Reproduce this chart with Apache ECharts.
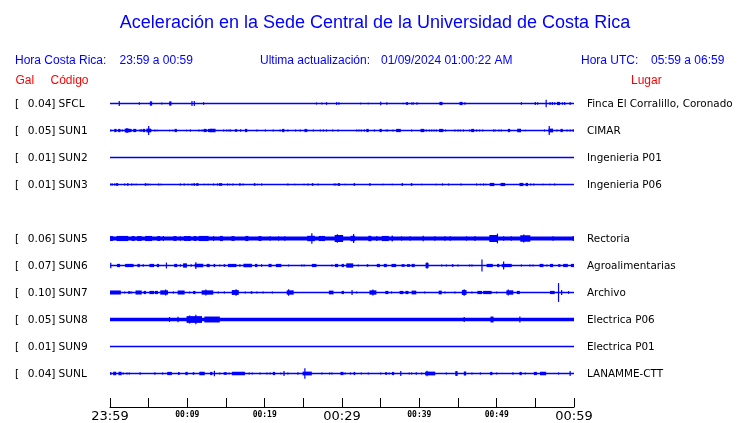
<!DOCTYPE html>
<html><head><meta charset="utf-8">
<script src="https://cdn.jsdelivr.net/npm/echarts@6/dist/echarts.min.js"></script>
<style>html,body{margin:0;padding:0;background:#fff}#c{width:740px;height:423px}</style>
</head><body><div id="c"></div>
<script>
// ---------------- DATA ----------------
const titleText = 'Aceleración en la Sede Central de la Universidad de Costa Rica';
const localLabel = 'Hora Costa Rica:';
const localRange = '23:59 a 00:59';
const updateLabel = 'Ultima actualización:';
const updateValue = '01/09/2024 01:00:22 AM';
const utcLabel = 'Hora UTC:';
const utcRange = '05:59 a 06:59';
const headGal = 'Gal';
const headCode = 'Código';
const headPlace = 'Lugar';

const stations = ['SFCL','SUN1','SUN2','SUN3','SUN5','SUN6','SUN7','SUN8','SUN9','SUNL'];
const peakGal = [0.04,0.05,0.01,0.01,0.06,0.07,0.10,0.05,0.01,0.04];
const places = ['Finca El Corralillo, Coronado','CIMAR','Ingenieria P01','Ingenieria P06','Rectoria','Agroalimentarias','Archivo','Electrica P06','Electrica P01','LANAMME-CTT'];
// continuous background noise half-amplitude (Gal)
const noiseGal = [0,0,0,0,0.014,0,0,0.013,0,0];

// time axis (minutes after 23:59)
const tickMinutes = [0,10,20,30,40,50,60];
const tickLabels = ['23:59','00:09','00:19','00:29','00:39','00:49','00:59'];

// bursts: [minute, half-amplitude Gal, duration minutes]
const sfclEvents = [[1.2,0.018,0],[3.8,0.010,0],[5.3,0.016,0.3],[6.7,0.008,0],[7.8,0.016,0.3],[10.6,0.018,0],[10.9,0.018,0],[12.1,0.010,0],[26.7,0.008,0],[27.4,0.008,0],[28.0,0.010,0],[29.3,0.010,0],[29.6,0.010,0],[32.4,0.006,0],[33.4,0.006,0],[35.0,0.013,0],[35.8,0.010,0],[37.9,0.006,0],[38.4,0.010,0.3],[39.0,0.008,0],[39.2,0.010,0],[39.7,0.010,0],[42.8,0.012,0.4],[45.4,0.012,0.4],[45.9,0.010,0],[53.2,0.010,0],[55.0,0.012,0],[55.3,0.010,0],[56.4,0.028,0],[56.9,0.012,0],[57.2,0.012,0],[57.5,0.010,0],[58.0,0.012,0.4],[58.5,0.010,0],[58.8,0.012,0],[59.5,0.012,0]];
const sun1Events = [[0.1,0.008,0],[0.7,0.012,0.3],[1.2,0.012,0.3],[1.6,0.008,0],[2.2,0.014,0.6],[2.2,0.018,0],[2.6,0.012,0.4],[3.2,0.012,0.4],[3.9,0.010,0],[4.1,0.010,0],[4.4,0.012,0.3],[5.0,0.014,0.6],[5.0,0.033,0],[5.3,0.010,0],[5.8,0.008,0],[6.1,0.006,0],[7.7,0.006,0],[8.1,0.006,0],[8.5,0.012,0.3],[9.9,0.006,0],[10.4,0.008,0],[11.5,0.008,0],[11.9,0.008,0],[12.3,0.012,0.4],[12.9,0.012,0.5],[13.3,0.013,0.7],[14.7,0.008,0],[15.1,0.008,0],[15.4,0.008,0],[15.6,0.008,0],[16.3,0.010,0.3],[16.9,0.010,0],[17.6,0.012,0.3],[19.0,0.008,0],[20.1,0.008,0],[21.1,0.008,0],[22.0,0.008,0],[22.4,0.012,0.3],[23.0,0.008,0],[24.0,0.008,0],[24.6,0.008,0],[25.3,0.012,0.3],[25.5,0.008,0],[26.3,0.008,0],[27.2,0.008,0],[27.6,0.008,0],[28.0,0.008,0],[28.8,0.008,0],[29.5,0.008,0],[31.9,0.008,0],[32.2,0.008,0],[32.5,0.008,0],[32.9,0.008,0],[33.3,0.012,0.3],[34.2,0.008,0],[35.0,0.012,0.3],[35.7,0.008,0],[35.9,0.008,0],[36.6,0.008,0],[37.3,0.012,0.6],[39.0,0.008,0],[40.4,0.012,0.5],[40.9,0.008,0],[41.3,0.008,0],[41.6,0.008,0],[41.9,0.008,0],[42.2,0.008,0],[42.8,0.012,0.5],[43.1,0.008,0],[43.4,0.008,0],[44.6,0.008,0],[45.0,0.008,0],[45.3,0.008,0],[45.7,0.008,0],[46.5,0.008,0],[46.9,0.012,0.4],[47.4,0.008,0],[47.8,0.008,0],[48.2,0.008,0],[49.6,0.008,0],[49.8,0.008,0],[50.3,0.008,0],[50.6,0.008,0],[51.6,0.012,0.3],[52.9,0.013,0.5],[53.7,0.006,0],[56.2,0.008,0],[57.0,0.014,0.6],[56.8,0.033,0],[57.8,0.008,0],[58.4,0.012,0.3],[59.1,0.008,0],[59.5,0.008,0],[59.9,0.010,0]];
const sun2Events = [];
const sun3Events = [[0.1,0.008,0],[0.3,0.008,0],[0.6,0.008,0],[0.9,0.010,0.3],[1.9,0.008,0],[2.3,0.010,0.2],[2.8,0.008,0],[3.1,0.006,0],[3.4,0.006,0],[4.6,0.010,0.2],[4.9,0.008,0],[5.2,0.006,0],[6.3,0.008,0],[6.6,0.006,0],[9.1,0.008,0],[9.6,0.008,0],[10.1,0.006,0],[10.6,0.008,0],[10.9,0.010,0.2],[11.3,0.010,0.3],[12.2,0.006,0],[12.7,0.006,0],[13.4,0.008,0],[13.9,0.008,0],[14.3,0.010,0.4],[15.2,0.008,0],[15.5,0.006,0],[15.9,0.008,0],[16.8,0.010,0.2],[17.2,0.008,0],[18.7,0.010,0.2],[19.1,0.006,0],[19.6,0.008,0],[23.0,0.008,0],[23.9,0.006,0],[25.1,0.006,0],[25.6,0.008,0],[26.2,0.010,0.2],[26.9,0.008,0],[29.0,0.008,0],[29.2,0.008,0],[29.6,0.010,0.3],[30.4,0.006,0],[31.6,0.010,0.2],[33.6,0.010,0.2],[35.3,0.006,0],[36.5,0.006,0],[37.8,0.010,0.2],[39.0,0.010,0.2],[40.3,0.006,0],[42.2,0.006,0],[43.0,0.008,0],[43.8,0.008,0],[45.4,0.008,0],[47.4,0.008,0],[47.9,0.006,0],[48.3,0.008,0],[48.6,0.006,0],[49.4,0.012,0.6],[50.8,0.012,0.6],[53.2,0.012,0.5],[53.9,0.012,0.3],[54.4,0.008,0],[54.8,0.008,0],[56.0,0.006,0],[56.9,0.006,0],[57.5,0.008,0]];
const sun5Events = [[0.2,0.018,0.4],[1.6,0.019,1.5],[3.0,0.018,0.4],[3.8,0.018,0.6],[5.0,0.019,0.9],[6.3,0.018,0.4],[6.9,0.018,0],[8.4,0.018,0.4],[9.1,0.016,0],[10.0,0.018,0.9],[11.0,0.018,0.4],[12.1,0.019,1.3],[13.4,0.018,0],[14.4,0.019,0.4],[15.9,0.018,0.4],[17.7,0.019,0.4],[19.4,0.018,0.4],[20.7,0.016,0],[21.8,0.016,0],[22.6,0.016,0],[26.0,0.020,1.0],[26.1,0.038,0],[27.4,0.019,0.8],[29.6,0.026,1.1],[29.4,0.032,0],[31.4,0.020,0.6],[31.5,0.033,0],[33.6,0.020,0.4],[34.5,0.018,0],[35.6,0.019,0.9],[36.5,0.021,0.2],[37.7,0.016,0],[38.8,0.016,0],[40.5,0.021,0],[42.0,0.016,0],[43.3,0.016,0],[44.0,0.016,0],[46.1,0.016,0],[47.2,0.019,0],[49.6,0.026,1.1],[50.1,0.036,0],[50.9,0.016,0],[51.9,0.016,0],[53.7,0.024,1.3],[53.5,0.030,0],[57.3,0.016,0],[59.9,0.018,0]];
const sun6Events = [[0.1,0.020,0],[1.1,0.012,0.4],[2.5,0.012,1.1],[3.7,0.012,0.3],[4.3,0.010,0],[5.4,0.012,0.6],[6.2,0.012,0.3],[7.3,0.022,0],[8.5,0.012,0.4],[9.1,0.010,0],[9.7,0.016,0.5],[10.5,0.010,0],[11.5,0.013,1.1],[11.1,0.025,0],[12.7,0.012,0.4],[13.5,0.012,0.2],[14.2,0.008,0],[14.8,0.010,0.2],[15.8,0.012,1.1],[16.8,0.010,0],[17.8,0.013,1.1],[18.9,0.012,0.3],[19.6,0.010,0],[20.7,0.012,0.4],[21.8,0.012,0.7],[23.1,0.008,0],[24.8,0.008,0],[25.1,0.008,0],[26.4,0.012,0.6],[28.7,0.008,0],[29.3,0.012,0.4],[30.1,0.012,0.3],[31.0,0.016,0.9],[32.1,0.008,0],[33.3,0.010,0.2],[34.7,0.012,0.4],[35.6,0.012,0.4],[36.7,0.012,0.6],[37.9,0.010,0.4],[38.6,0.010,0.4],[39.2,0.012,0.4],[41.0,0.018,0.4],[41.0,0.024,0],[42.9,0.008,0],[43.5,0.008,0],[44.3,0.010,0.2],[45.0,0.008,0],[46.5,0.008,0],[46.8,0.008,0],[48.1,0.045,0],[49.1,0.012,0.8],[50.2,0.012,0.3],[51.3,0.012,1.3],[50.9,0.030,0],[53.2,0.008,0],[54.3,0.008,0],[54.7,0.008,0],[55.8,0.012,0.5],[56.5,0.008,0],[57.1,0.012,0.4],[58.1,0.010,0.3],[58.9,0.012,0.6],[59.8,0.012,0.4]];
const sun7Events = [[0.7,0.015,1.4],[1.9,0.008,0],[2.5,0.010,0.3],[2.8,0.008,0],[3.7,0.015,0.8],[4.5,0.012,0.3],[5.4,0.012,0.6],[6.0,0.012,0.4],[7.0,0.016,1.0],[7.2,0.022,0],[8.2,0.008,0],[9.2,0.015,0.9],[10.3,0.008,0],[10.9,0.012,0.3],[12.6,0.016,1.5],[12.4,0.022,0],[14.0,0.008,0],[14.8,0.008,0],[16.2,0.018,0.9],[16.3,0.024,0],[17.5,0.008,0],[18.3,0.010,0.2],[19.0,0.008,0],[19.8,0.008,0],[21.0,0.008,0],[23.3,0.016,0.9],[23.1,0.024,0],[28.6,0.014,0.6],[30.1,0.012,0.3],[31.3,0.018,0],[31.9,0.008,0],[34.0,0.016,0.9],[34.0,0.022,0],[35.8,0.012,0.4],[36.4,0.008,0],[37.7,0.012,0.5],[38.4,0.012,0.4],[39.3,0.014,0.6],[40.7,0.008,0],[42.7,0.014,0.4],[43.3,0.008,0],[44.6,0.008,0],[45.8,0.018,0.6],[45.8,0.024,0],[46.8,0.008,0],[47.8,0.012,0.6],[48.8,0.012,1.1],[50.0,0.008,0],[51.7,0.016,0.9],[51.5,0.022,0],[52.8,0.012,0.4],[57.2,0.012,0.6],[58.0,0.070,0],[58.4,0.018,0],[59.3,0.010,0]];
const sun8Events = [[7.7,0.018,0],[8.8,0.020,0],[10.9,0.025,2.0],[10.3,0.030,0],[11.1,0.036,0],[13.2,0.022,2.0],[45.8,0.018,0],[49.4,0.022,0.4],[53.0,0.022,0]];
const sun9Events = [];
const sunlEvents = [[0.1,0.012,0],[0.6,0.013,0.4],[1.3,0.013,0.4],[1.7,0.008,0],[2.2,0.008,0],[2.5,0.008,0],[3.9,0.010,0],[5.8,0.010,0],[6.8,0.008,0],[7.7,0.012,0.6],[8.9,0.012,0.2],[9.9,0.012,0.3],[10.8,0.010,0.2],[11.9,0.013,0.7],[13.1,0.012,0.3],[13.5,0.020,0],[14.2,0.008,0],[14.9,0.010,0.4],[15.4,0.008,0],[16.6,0.013,1.7],[18.0,0.008,0],[18.4,0.008,0],[19.4,0.008,0],[20.3,0.008,0],[20.7,0.008,0],[21.2,0.012,0.3],[22.1,0.008,0],[22.5,0.018,0],[23.0,0.008,0],[24.3,0.010,0],[25.5,0.014,1.2],[25.2,0.038,0],[27.4,0.008,0],[28.4,0.008,0],[28.7,0.008,0],[30.0,0.012,0.4],[30.4,0.008,0],[31.1,0.008,0],[31.6,0.012,0.2],[32.5,0.008,0],[33.4,0.008,0],[35.0,0.008,0],[35.7,0.012,0.2],[36.1,0.008,0],[36.6,0.012,0.3],[37.6,0.018,0],[38.7,0.008,0],[39.0,0.008,0],[39.6,0.010,0],[40.3,0.008,0],[41.4,0.014,1.3],[41.0,0.020,0],[43.5,0.008,0],[44.8,0.018,0.3],[45.9,0.015,0.3],[46.8,0.008,0],[47.9,0.008,0],[49.3,0.012,0.3],[50.0,0.008,0],[52.1,0.010,0],[53.1,0.012,0.3],[53.7,0.008,0],[55.0,0.012,0.4],[56.0,0.013,0.8],[58.0,0.008,0],[59.5,0.018,0]];
const traceEvents = [sfclEvents,sun1Events,sun2Events,sun3Events,sun5Events,sun6Events,sun7Events,sun8Events,sun9Events,sunlEvents];

// ---------------- LAYOUT ----------------
const BLUE = '#0000ff', RED = '#ff0000', INK = '#000000';
const X0 = 110, XW = 464;
const ROW0 = 103.5, ROWSTEP = 27;
const rowSlot = [0,1,2,3,5,6,7,8,9,10];

function renderItem(params, api) {
  const t = api.value(0), a = api.value(1), d = api.value(2);
  const c = api.coord([t, 0]);
  const yTop = api.coord([t, a])[1];
  const yBot = api.coord([t, -a])[1];
  let w = 1.2;
  if (d > 0) w = Math.max(1.2, api.coord([t + d / 2, 0])[0] - api.coord([t - d / 2, 0])[0]);
  return { type: 'rect', shape: { x: c[0] - w / 2, y: yTop, width: w, height: Math.max(1, yBot - yTop) }, style: { fill: BLUE } };
}

const grids = [], xAxes = [], yAxes = [], series = [], graphics = [];
function txt(x, y, text, font, fill, align) {
  graphics.push({ type: 'text', x: x, y: y, silent: true,
    style: { text: text, font: font, fill: fill, align: align || 'left', verticalAlign: 'middle', textAlign: align || 'left', textVerticalAlign: 'middle' } });
}
const LBLFONT = '10.6px "DejaVu Sans"';
const PLACEFONT = '10.4px "DejaVu Sans"';
stations.forEach((code, i) => {
  const cy = ROW0 + ROWSTEP * rowSlot[i];
  grids.push({ left: X0, width: XW, top: cy - 13.5, height: 27 });
  xAxes.push({ type: 'value', gridIndex: i, min: 0, max: 60, show: false });
  yAxes.push({ type: 'value', gridIndex: i, min: -0.1, max: 0.1, show: false });
  series.push({ type: 'line', xAxisIndex: i, yAxisIndex: i, data: [[0, 0], [60, 0]], symbol: 'none',
    lineStyle: { color: BLUE, width: 1.6 }, silent: true, animation: false });
  const ev = traceEvents[i].slice();
  if (noiseGal[i] > 0) ev.unshift([30, noiseGal[i], 60]);
  series.push({ type: 'custom', xAxisIndex: i, yAxisIndex: i, data: ev, renderItem: renderItem,
    animation: false, silent: true, clip: false });
  txt(15, cy + 0.5, '[', LBLFONT, INK);
  txt(55.5, cy + 0.5, peakGal[i].toFixed(2) + ']', LBLFONT, INK, 'right');
  txt(58.5, cy + 0.5, code, LBLFONT, INK);
  txt(587, cy + 0.5, places[i], PLACEFONT, INK);
});

// time axis grid
const AX = stations.length;
grids.push({ left: X0, width: XW, top: 395, height: 14 });
xAxes.push({ type: 'value', gridIndex: AX, min: 0, max: 60, interval: 5,
  axisLine: { show: true, onZero: false, lineStyle: { color: INK, width: 1 } },
  axisTick: { show: true, inside: true, length: 9, lineStyle: { color: INK, width: 1 } },
  splitLine: { show: false },
  axisLabel: { margin: 3, showMinLabel: true, showMaxLabel: true,
    formatter: function (v) {
      const k = tickMinutes.indexOf(v);
      if (k < 0) return '';
      return (k % 3 === 0 ? '{big|' : '{small|') + tickLabels[k] + '}';
    },
    rich: {
      big: { fontFamily: 'DejaVu Sans', fontSize: 13, color: INK },
      small: { fontFamily: 'DejaVu Sans Mono', fontSize: 8, fontWeight: 'bold', color: INK, padding: [1, 0, 0, 0] }
    } } });
yAxes.push({ type: 'value', gridIndex: AX, show: false });

// header texts
const HF = '12px "Liberation Sans"';
txt(375, 23, titleText, '18px "Liberation Sans"', BLUE, 'center');
txt(15, 61, localLabel, HF, BLUE);
txt(119.5, 61, localRange, HF, BLUE);
txt(260, 61, updateLabel, HF, BLUE);
txt(381, 61, updateValue, HF, BLUE);
txt(581, 61, utcLabel, HF, BLUE);
txt(651, 61, utcRange, HF, BLUE);
txt(15.5, 81, headGal, HF, RED);
txt(50.5, 81, headCode, HF, RED);
txt(631, 81, headPlace, HF, RED);

const chart = echarts.init(document.getElementById('c'), null, { renderer: 'canvas' });
chart.setOption({
  backgroundColor: '#ffffff',
  animation: false,
  grid: grids, xAxis: xAxes, yAxis: yAxes, series: series,
  graphic: graphics
});
</script></body></html>
